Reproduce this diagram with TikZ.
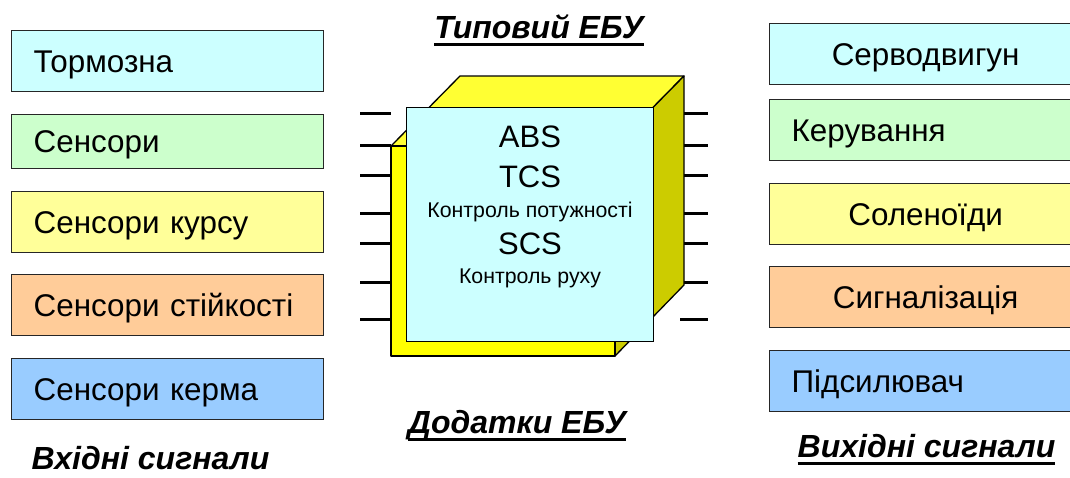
\documentclass[tikz,border=0pt]{standalone}
\usepackage{fontspec}
\setmainfont{Liberation Sans}
\newcommand{\myul}[1]{\setbox0\hbox{#1}\rlap{\rule[-8.3pt]{\wd0}{3.3pt}}\box0}
\definecolor{cCyan}{HTML}{CCFFFF}
\definecolor{cGreen}{HTML}{CCFFCC}
\definecolor{cYel}{HTML}{FFFF99}
\definecolor{cOr}{HTML}{FFCC99}
\definecolor{cBlue}{HTML}{99CCFF}
\definecolor{cubeFront}{HTML}{FFFF00}
\definecolor{cubeTop}{HTML}{FFFF33}
\definecolor{cubeSide}{HTML}{CCCC00}
\tikzset{
  sigbox/.style={draw=black!85, line width=1.3pt, minimum height=61pt,
    text width=268pt, inner xsep=22pt, inner ysep=0pt, text height=22.5pt, text depth=0pt,
    font=\fontsize{31.4}{37}\selectfont, anchor=north west},
  lbox/.style={sigbox, align=left},
  cbox/.style={sigbox, align=center},
  title/.style={anchor=base, inner sep=0pt, font=\bfseries\itshape\fontsize{32}{37}\selectfont},
  big/.style={anchor=base, inner sep=0pt, font=\fontsize{31}{36}\selectfont},
  small/.style={anchor=base, inner sep=0pt, font=\fontsize{21.3}{25}\selectfont},
  pin/.style={line width=3pt},
  cubeface/.style={draw=black, line width=1.3pt, line join=round},
}
\begin{document}
\begin{tikzpicture}[x=1pt,y=-1pt]
\useasboundingbox (0,0) rectangle (1070,477);
% input boxes
\node[lbox, fill=cCyan]  (l1) at (11,30)  {Тормозна};
\node[lbox, fill=cGreen, minimum height=54pt] (l2) at (11,114) {Сенсори};
\node[lbox, fill=cYel]   (l3) at (11,191) {Сенсори курсу};
\node[lbox, fill=cOr]    (l4) at (11,274) {Сенсори стійкості};
\node[lbox, fill=cBlue]  (l5) at (11,358) {Сенсори керма};
\node[title] (tin) at (150.5,469.5) {Вхідні сигнали};
% output boxes
\node[cbox, fill=cCyan]  (r1) at (769,23)  {Серводвигун};
\node[lbox, fill=cGreen] (r2) at (769,99)  {Керування};
\node[cbox, fill=cYel]   (r3) at (769,183) {Соленоїди};
\node[cbox, fill=cOr]    (r4) at (769,266) {Сигналізація};
\node[lbox, fill=cBlue]  (r5) at (769,350) {Підсилювач};
\node[title] (tout) at (926.5,457) {\myul{Вихідні сигнали}};
% pins
\foreach \y in {113,145,175,213,243,282,319}{
  \draw[pin] (360,\y) -- (391,\y);
  \draw[pin] (680,\y) -- (708,\y);
}
% cube
\draw[cubeface, fill=cubeTop] (391,146) -- (460,76) -- (684,76) -- (615,146) -- cycle;
\draw[cubeface, fill=cubeSide] (615,146) -- (684,76) -- (684,285) -- (615,356) -- cycle;
\draw[cubeface, fill=cubeFront] (391,146) rectangle (615,356);
\node[draw=black, line width=1.3pt, fill=cCyan, minimum width=247pt, minimum height=234pt, anchor=north west, inner sep=0pt] (panel) at (406,107) {};
\node[big] (abs) at (530,147) {ABS};
\node[big] (tcs) at (530,187) {TCS};
\node[small] (kp) at (530,217) {Контроль потужності};
\node[big] (scs) at (530,254) {SCS};
\node[small] (kr) at (530,283) {Контроль руху};
% titles
\node[title] (ttyp) at (539,38) {\myul{Типовий ЕБУ}};
\node[title] (tadd) at (517,433) {\myul{Додатки ЕБУ}};
\end{tikzpicture}
\end{document}
